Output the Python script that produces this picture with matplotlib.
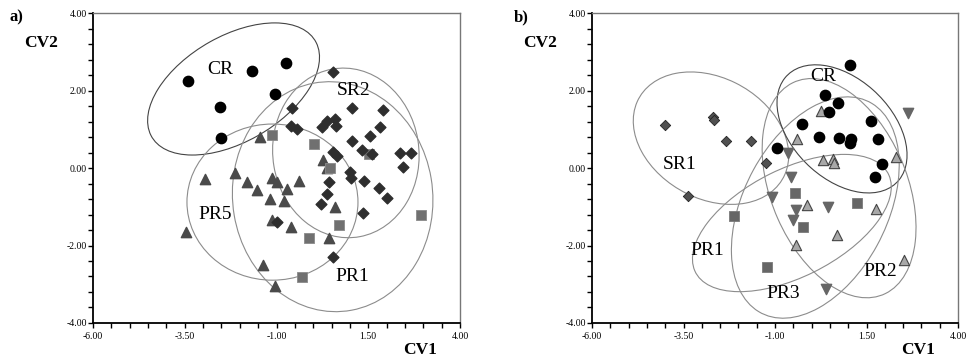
import matplotlib
matplotlib.use("Agg")
import matplotlib.pyplot as plt
from matplotlib.patches import Ellipse
from matplotlib.ticker import MultipleLocator, FixedLocator, FormatStrFormatter

plt.rcParams['font.family'] = ['Liberation Serif', 'DejaVu Serif']

x_ticks = [-6.0, -3.5, -1.0, 1.5, 4.0]
y_ticks = [-4.0, -2.0, 0.0, 2.0, 4.0]

# ---- panel a) ----
a_cr_x = [-3.41, -2.54, -2.51, -1.67, -0.74, -1.04]
a_cr_y = [2.25, 1.57, 0.77, 2.50, 2.71, 1.90]

a_sr2_x = [0.54, -0.58, 1.06, 1.90, 0.38, 0.59, 0.62, 0.24, -0.60, -0.44, 1.82, 1.55,
           1.06, 1.33, 1.60, 0.54, 0.65, 2.37, 2.66, 2.45, 1.00, 1.03, 0.43, 1.38,
           1.79, 2.01, 0.38, 0.21, 1.36, -0.99, 0.54]
a_sr2_y = [2.48, 1.55, 1.55, 1.50, 1.21, 1.26, 1.08, 1.06, 1.08, 1.01, 1.06, 0.83,
           0.70, 0.46, 0.36, 0.41, 0.31, 0.39, 0.39, 0.03, -0.10, -0.26, -0.36, -0.34,
           -0.52, -0.77, -0.67, -0.93, -1.16, -1.39, -2.30]

a_pr1_x = [-1.12, 0.02, 1.52, 0.46, 0.70, -0.11, -0.31, 2.94]
a_pr1_y = [0.85, 0.62, 0.36, 0.00, -1.47, -1.81, -2.81, -1.21]

a_pr5_x = [-1.45, -2.95, -2.13, -1.80, -1.53, -1.12, -0.99, -0.71, -0.39, -1.18,
           -0.80, -1.12, -0.60, 0.59, 0.43, -3.47, -1.37, -1.04, 0.27, 0.38]
a_pr5_y = [0.80, -0.28, -0.13, -0.36, -0.57, -0.26, -0.36, -0.54, -0.34, -0.80,
           -0.85, -1.34, -1.52, -1.01, -1.81, -1.65, -2.50, -3.05, 0.21, 0.00]

# ellipses: centre x, centre y, width, height, angle
a_ell_names = ['CR', 'SR2', 'PR1', 'PR5']
a_ell_cx = [-2.17, 0.89, 0.53, -1.11]
a_ell_cy = [2.04, 0.39, -0.74, -0.88]
a_ell_w = [5.1, 3.98, 5.45, 4.66]
a_ell_h = [2.75, 4.39, 5.95, 4.03]
a_ell_ang = [28, 10, 10, 0]

a_lab_text = ['CR', 'SR2', 'PR5', 'PR1']
a_lab_x = [-2.54, 1.11, -2.68, 1.06]
a_lab_y = [2.55, 1.99, -1.21, -2.79]

# ---- panel b) ----
b_cr_x = [1.05, 0.37, 0.72, 0.48, -0.26, 1.62, 0.20, 0.75, 1.08, 1.05, 1.81, -0.95, 1.92, 1.73]
b_cr_y = [2.66, 1.88, 1.68, 1.45, 1.14, 1.21, 0.80, 0.77, 0.75, 0.65, 0.75, 0.52, 0.10, -0.23]

b_sr1_x = [-4.01, -2.69, -2.67, -2.34, -1.66, -1.25, -3.38]
b_sr1_y = [1.11, 1.32, 1.24, 0.70, 0.70, 0.13, -0.72]

b_pr2_x = [0.26, -0.40, 0.31, 0.58, 0.61, 2.31, -0.13, 1.76, 0.69, -0.43, 2.52]
b_pr2_y = [1.47, 0.75, 0.21, 0.23, 0.13, 0.28, -0.95, -1.06, -1.73, -1.99, -2.37]

b_pr3_x = [2.63, -0.64, -0.56, -1.08, -0.43, -0.51, 0.45, 0.39]
b_pr3_y = [1.42, 0.39, -0.23, -0.75, -1.08, -1.34, -1.01, -3.12]

b_pr1_x = [-0.45, -2.12, -0.23, 1.24, -1.22]
b_pr1_y = [-0.65, -1.24, -1.52, -0.90, -2.55]

b_ell_names = ['SR1', 'CR', 'PR1', 'PR2', 'PR3']
b_ell_cx = [-2.75, 0.83, -0.54, 0.75, 0.10]
b_ell_cy = [0.77, 1.01, -1.42, -0.52, -1.02]
b_ell_w = [4.45, 4.08, 5.85, 6.0, 6.2]
b_ell_h = [3.15, 2.63, 2.8, 3.7, 3.9]
b_ell_ang = [-25, -40, 25, -65, 60]

b_lab_text = ['CR', 'SR1', 'PR1', 'PR3', 'PR2']
b_lab_x = [0.31, -3.60, -2.86, -0.78, 1.87]
b_lab_y = [2.37, 0.10, -2.12, -3.25, -2.68]


def style_axes(ax):
    ax.set_xlim(-6, 4)
    ax.set_ylim(-4, 4)
    ax.xaxis.set_major_locator(FixedLocator(x_ticks))
    ax.xaxis.set_minor_locator(MultipleLocator(0.5))
    ax.yaxis.set_major_locator(FixedLocator(y_ticks))
    ax.yaxis.set_minor_locator(MultipleLocator(0.4))
    ax.xaxis.set_major_formatter(FormatStrFormatter('%.2f'))
    ax.yaxis.set_major_formatter(FormatStrFormatter('%.2f'))
    ax.tick_params(which='both', direction='out', length=3.5, width=1.0,
                   labelsize=7, top=False, right=False)
    ax.tick_params(axis='x', pad=3)
    ax.tick_params(axis='y', pad=1)
    for s in ['left', 'bottom']:
        ax.spines[s].set_linewidth(1.3)
        ax.spines[s].set_color('black')
    for s in ['top', 'right']:
        ax.spines[s].set_linewidth(1.0)
        ax.spines[s].set_color('#777777')


def draw_ellipses(ax, names, cx, cy, w, h, ang):
    for n, x, y, ww, hh, a in zip(names, cx, cy, w, h, ang):
        col = '#444444' if n == 'CR' else '#8c8c8c'
        ax.add_patch(Ellipse((x, y), ww, hh, angle=a, fill=False,
                             edgecolor=col, linewidth=0.8, zorder=1))


fig = plt.figure(figsize=(9.76, 3.6), dpi=100)
ax1 = fig.add_axes([0.0953, 0.1028, 0.376, 0.861])
ax2 = fig.add_axes([0.6066, 0.1028, 0.375, 0.861])

# panel a
draw_ellipses(ax1, a_ell_names, a_ell_cx, a_ell_cy, a_ell_w, a_ell_h, a_ell_ang)
ax1.scatter(a_pr5_x, a_pr5_y, marker='^', s=55, c='#4a4a4a', edgecolors='#4a4a4a', zorder=3)
ax1.scatter(a_pr1_x, a_pr1_y, marker='s', s=58, c='#707070', edgecolors='#8a8a8a', linewidths=0.6, zorder=3)
ax1.scatter(a_sr2_x, a_sr2_y, marker='D', s=30, c='#2e2e2e', edgecolors='#2e2e2e', zorder=4)
ax1.scatter(a_cr_x, a_cr_y, marker='o', s=55, c='black', edgecolors='black', zorder=4)
for t, x, y in zip(a_lab_text, a_lab_x, a_lab_y):
    ax1.text(x, y, t, fontsize=14, ha='center', va='center', zorder=5)
style_axes(ax1)

# panel b
draw_ellipses(ax2, b_ell_names, b_ell_cx, b_ell_cy, b_ell_w, b_ell_h, b_ell_ang)
ax2.scatter(b_pr1_x, b_pr1_y, marker='s', s=58, c='#666666', edgecolors='#7a7a7a', linewidths=0.6, zorder=3)
ax2.scatter(b_pr3_x, b_pr3_y, marker='v', s=55, c='#666666', edgecolors='#666666', zorder=3)
ax2.scatter(b_pr2_x, b_pr2_y, marker='^', s=55, c='#a8a8a8', edgecolors='#444444', linewidths=0.8, zorder=3)
ax2.scatter(b_sr1_x, b_sr1_y, marker='D', s=28, c='#505050', edgecolors='#222222', linewidths=0.6, zorder=4)
ax2.scatter(b_cr_x, b_cr_y, marker='o', s=55, c='black', edgecolors='black', zorder=4)
for t, x, y in zip(b_lab_text, b_lab_x, b_lab_y):
    ax2.text(x, y, t, fontsize=14, ha='center', va='center', zorder=5)
style_axes(ax2)

# panel letters and axis titles
fig.text(16 / 976, 1 - 17 / 360, 'a)', fontsize=12, fontweight='bold', ha='center', va='center')
fig.text(41 / 976, 1 - 43 / 360, 'CV2', fontsize=12.5, fontweight='bold', ha='center', va='center')
fig.text(420 / 976, 1 - 350 / 360, 'CV1', fontsize=12.5, fontweight='bold', ha='center', va='center')
fig.text(521 / 976, 1 - 17 / 360, 'b)', fontsize=12, fontweight='bold', ha='center', va='center')
fig.text(540 / 976, 1 - 43 / 360, 'CV2', fontsize=12.5, fontweight='bold', ha='center', va='center')
fig.text(918 / 976, 1 - 350 / 360, 'CV1', fontsize=12.5, fontweight='bold', ha='center', va='center')

fig.savefig('out.png', dpi=100, facecolor='white')
